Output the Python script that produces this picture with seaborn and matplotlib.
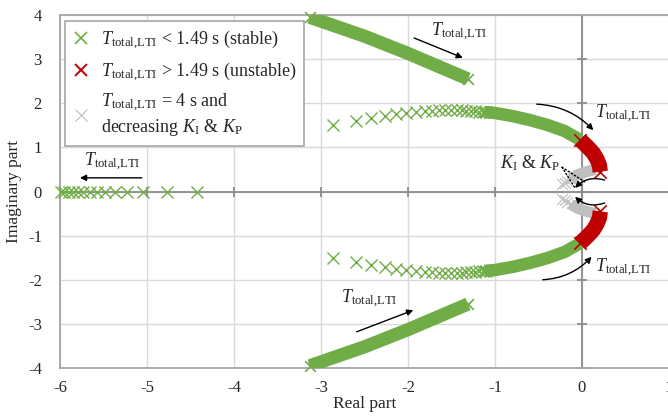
import matplotlib
matplotlib.use('Agg')
import matplotlib.pyplot as plt
from matplotlib.lines import Line2D
import numpy as np
import seaborn as sns

# ---- data (upper half; lower half is the conjugate) ----
# fast branch (dense band of markers)
fast_x = [-3.13, -2.5, -2.0, -1.31]
fast_y = [3.95, 3.52, 3.13, 2.55]

# main arc, individually visible markers
arc_x = [-2.86, -2.60, -2.43, -2.27, -2.14, -2.02, -1.91, -1.81, -1.72, -1.64,
         -1.57, -1.50, -1.44, -1.38, -1.33, -1.28, -1.23, -1.18, -1.14, -1.10]
arc_y = [1.51, 1.60, 1.67, 1.71, 1.75, 1.78, 1.80, 1.82, 1.83, 1.84,
         1.84, 1.84, 1.84, 1.84, 1.83, 1.83, 1.82, 1.81, 1.80, 1.80]
# main arc, dense (solid) part
arc_band_x = [-1.12, -1.0, -0.8, -0.6, -0.4, -0.2, -0.02]
arc_band_y = [1.80, 1.78, 1.71, 1.62, 1.51, 1.37, 1.17]

# unstable part
red_x = [-0.02, 0.07, 0.13, 0.17, 0.20, 0.21]
red_y = [1.17, 1.0, 0.87, 0.74, 0.60, 0.45]

# T = 4 s, decreasing KI & KP
gray_x = [0.15, 0.05, -0.05, -0.13]
gray_y = [0.50, 0.45, 0.38, 0.29]
gray_pts_x = [-0.17, -0.20, -0.23]
gray_pts_y = [0.24, 0.20, 0.16]

# real-axis poles
real_x = [-4.43, -4.77, -5.05, -5.23, -5.37, -5.48, -5.57, -5.66, -5.73,
          -5.79, -5.85, -5.90, -5.95, -5.99]
real_y = [0.0] * len(real_x)

xticks = [-6, -5, -4, -3, -2, -1, 0, 1]
yticks = [-4, -3, -2, -1, 0, 1, 2, 3, 4]

GREEN = '#70AD47'
RED = '#C00000'
GRAY = '#BFBFBF'
T_LBL = r'$T_{\mathrm{total{,}LTI}}$'

sns.set_style('white')
plt.rcParams['font.family'] = ['Liberation Serif', 'DejaVu Serif']
plt.rcParams['mathtext.fontset'] = 'custom'
plt.rcParams['mathtext.rm'] = 'Liberation Serif'
plt.rcParams['mathtext.it'] = 'Liberation Serif:italic'
plt.rcParams['axes.unicode_minus'] = False

fig = plt.figure(figsize=(6.68, 4.16), dpi=100)
ax = fig.add_axes([0.0898, 0.1154, 0.9117, 0.8485])

ax.set_xlim(-6, 1)
ax.set_ylim(-4, 4)
ax.set_xticks(xticks)
ax.set_yticks(yticks)
ax.grid(True, color='#D9D9D9', lw=1)
ax.set_axisbelow(True)
ax.tick_params(length=0, labelsize=12)
ax.tick_params(axis='x', pad=9)
ax.tick_params(axis='y', pad=13)
for s in ax.spines.values():
    s.set_color('#A6A6A6')
    s.set_linewidth(1.3)

# axis lines through the origin with cross ticks
ax.axhline(0, color='#8C8C8C', lw=1.3, zorder=1.5)
ax.axvline(0, color='#8C8C8C', lw=1.3, zorder=1.5)
ax.plot(xticks, [0] * len(xticks), ls='none', marker='|', ms=7, mew=1.3,
        color='#8C8C8C', zorder=1.5)
ax.plot([0] * len(yticks), yticks, ls='none', marker='_', ms=7, mew=1.3,
        color='#8C8C8C', zorder=1.5)


def band(xs, ys, color, lw=9.5, end_s=60):
    for sgn in (1, -1):
        yy = [sgn * v for v in ys]
        sns.lineplot(x=xs, y=yy, sort=False, estimator=None, color=color,
                     lw=lw, solid_capstyle='butt', ax=ax, zorder=3)
        sns.scatterplot(x=[xs[0], xs[-1]], y=[yy[0], yy[-1]], marker='x',
                        color=color, s=end_s, linewidth=1.2, ax=ax, zorder=3,
                        clip_on=False)


def pts(xs, ys, color, s=75, lw=1.0):
    for sgn in (1, -1):
        sns.scatterplot(x=xs, y=[sgn * v for v in ys], marker='x', color=color,
                        s=s, linewidth=lw, ax=ax, zorder=3, clip_on=False)


band(fast_x, fast_y, GREEN)
pts(arc_x, arc_y, GREEN)
band(arc_band_x, arc_band_y, GREEN, lw=9)
band(gray_x, gray_y, GRAY, lw=8, end_s=40)
pts(gray_pts_x, gray_pts_y, GRAY, s=60, lw=0.8)
band(red_x, red_y, RED, lw=11, end_s=80)
sns.scatterplot(x=real_x, y=real_y, marker='x', color=GREEN, s=75,
                linewidth=1.0, ax=ax, zorder=3, clip_on=False)

ax.set_xlabel('Real part', fontsize=12.5, labelpad=0)
ax.set_ylabel('Imaginary part', fontsize=12.5, labelpad=4)

# annotations
aprops = dict(arrowstyle='-|>', color='black', lw=1, mutation_scale=9,
              shrinkA=0, shrinkB=0)
ax.annotate('', xy=(-1.37, 3.03), xytext=(-1.93, 3.48), arrowprops=aprops)
ax.text(-1.41, 3.62, T_LBL, fontsize=13, ha='center', va='center')
ax.annotate('', xy=(-1.94, -2.69), xytext=(-2.59, -3.18), arrowprops=aprops)
ax.text(-2.44, -2.44, T_LBL, fontsize=13, ha='center', va='center')
ax.annotate('', xy=(-5.77, 0.31), xytext=(-5.06, 0.31), arrowprops=aprops)
ax.text(-5.4, 0.67, T_LBL, fontsize=13, ha='center', va='center')
ax.annotate('', xy=(0.13, 1.39), xytext=(-0.52, 1.98),
            arrowprops=dict(aprops, connectionstyle='arc3,rad=-0.2'))
ax.text(0.47, 1.76, T_LBL, fontsize=13, ha='center', va='center')
ax.annotate('', xy=(0.11, -1.48), xytext=(-0.45, -2.0),
            arrowprops=dict(aprops, connectionstyle='arc3,rad=0.2'))
ax.text(0.47, -1.73, T_LBL, fontsize=13, ha='center', va='center')

ax.text(-0.6, 0.64, r'$K_\mathrm{I}$ & $K_\mathrm{P}$', fontsize=13,
        ha='center', va='center')
dprops = dict(arrowstyle='-', color='black', lw=1, linestyle=':',
              shrinkA=0, shrinkB=0)
ax.annotate('', xy=(0.03, 0.22), xytext=(-0.23, 0.55), arrowprops=dprops)
ax.annotate('', xy=(-0.08, 0.08), xytext=(-0.23, 0.55), arrowprops=dprops)
ax.annotate('', xy=(-0.08, 0.08), xytext=(0.26, 0.26),
            arrowprops=dict(aprops, connectionstyle='arc3,rad=0.3'))
ax.annotate('', xy=(-0.08, -0.12), xytext=(0.26, -0.26),
            arrowprops=dict(aprops, connectionstyle='arc3,rad=-0.3'))

handles = [
    Line2D([], [], ls='none', marker='x', color=GREEN, ms=9, mew=1.2),
    Line2D([], [], ls='none', marker='x', color=RED, ms=9, mew=1.4),
    Line2D([], [], ls='none', marker='x', color=GRAY, ms=9, mew=0.8),
]
labels = [
    T_LBL + ' < 1.49 s (stable)',
    T_LBL + ' > 1.49 s (unstable)',
    T_LBL + ' = 4 s and\ndecreasing $K_\\mathrm{I}$ & $K_\\mathrm{P}$',
]
leg = ax.legend(handles, labels, loc='upper left', bbox_to_anchor=(0.008, 0.983),
                borderaxespad=0, fontsize=13, frameon=True, fancybox=False,
                framealpha=1, edgecolor='#A6A6A6', handlelength=1.0,
                handletextpad=0.6, labelspacing=0.5, borderpad=0.4)
leg.get_frame().set_linewidth(1.2)
leg.set_zorder(5)

fig.savefig('out.png', dpi=100)
